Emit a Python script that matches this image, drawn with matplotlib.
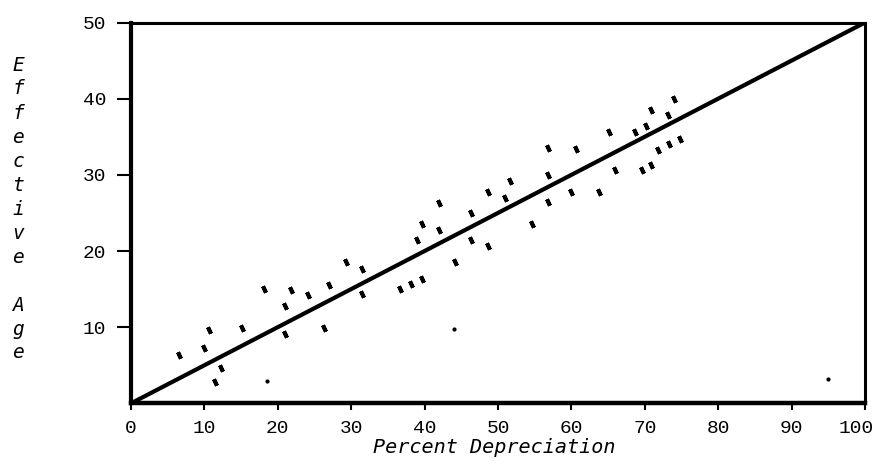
import matplotlib
matplotlib.use('Agg')
import matplotlib.pyplot as plt
from matplotlib.transforms import ScaledTranslation

# data
pct_dep = [6.6, 9.9, 10.6, 12.2, 11.4, 15.1, 18.1, 21.0, 21.0, 21.8,
           24.1, 26.3, 27.0, 29.3, 31.5, 31.5, 36.7, 38.1, 39.7, 38.9,
           39.6, 41.9, 42.0, 44.1, 46.3, 46.3, 48.6, 48.7, 50.9, 51.7,
           54.7, 56.8, 56.8, 56.8, 59.9, 60.6, 63.7, 65.1, 65.9, 68.7,
           69.6, 70.2, 70.9, 70.9, 71.8, 73.2, 73.3, 74.0, 74.8]
eff_age = [6.4, 7.3, 9.6, 4.7, 2.8, 9.9, 15.0, 12.8, 9.1, 14.9,
           14.2, 9.9, 15.6, 18.5, 17.7, 14.3, 15.0, 15.7, 16.3, 21.4,
           23.6, 22.8, 26.3, 18.5, 25.0, 21.5, 27.8, 20.6, 27.0, 29.2,
           23.5, 30.0, 26.5, 33.5, 27.8, 33.4, 27.8, 35.6, 30.7, 35.6,
           30.6, 36.4, 38.5, 31.3, 33.2, 37.8, 34.0, 39.9, 34.7]

# faint dots
dot_dep = [18.5, 44.0, 95.0]
dot_age = [2.9, 9.8, 3.2]

# reference line
line_dep = [0, 100]
line_age = [0, 50]

xticks = [0, 10, 20, 30, 40, 50, 60, 70, 80, 90, 100]
yticks = [10, 20, 30, 40, 50]
ylabel = 'Effective Age'
xlabel = 'Percent Depreciation'

fig = plt.figure(figsize=(8.76, 4.69), dpi=100)
ax = fig.add_axes([131 / 876, 0.14, 734 / 876, 0.812])

ax.plot(line_dep, line_age, color='black', lw=3, solid_capstyle='round')
ax.plot(pct_dep, eff_age, ls='none', marker=(2, 2, 25), ms=5,
        mew=2.8, color='black')
ax.plot(dot_dep, dot_age, ls='none', marker='o', ms=2, color='black')

ax.set_xlim(0, 100)
ax.set_ylim(0, 50)
ax.set_xticks(xticks)
ax.set_yticks(yticks)
ax.tick_params(axis='x', direction='out', length=5, width=1.5, pad=7,
               labelsize=14)
ax.tick_params(axis='y', direction='out', length=10, width=1.5, pad=8,
               labelsize=14)
for lab in ax.get_xticklabels() + ax.get_yticklabels():
    lab.set_family('Liberation Mono')

# last x label sits a little left of its tick, as on the scan
last = ax.get_xticklabels()[-1]
last.set_transform(last.get_transform()
                   + ScaledTranslation(-9 / 100, 0, fig.dpi_scale_trans))

for side, w in [('left', 3.0), ('bottom', 3.2), ('top', 2.2), ('right', 2.2)]:
    ax.spines[side].set_linewidth(w)
    ax.spines[side].set_color('black')

# vertical stacked y label
y0 = 1 - 65 / 469
step = 24 / 469
for i, ch in enumerate(ylabel):
    fig.text(18 / 876, y0 - i * step, ch, ha='center', va='center',
             fontsize=14, family='DejaVu Sans Mono', style='oblique')

fig.text(494 / 876, 1 - 447 / 469, xlabel, ha='center', va='center',
         fontsize=14.5, family='DejaVu Sans Mono', style='oblique')

fig.savefig('out.png', dpi=100)
